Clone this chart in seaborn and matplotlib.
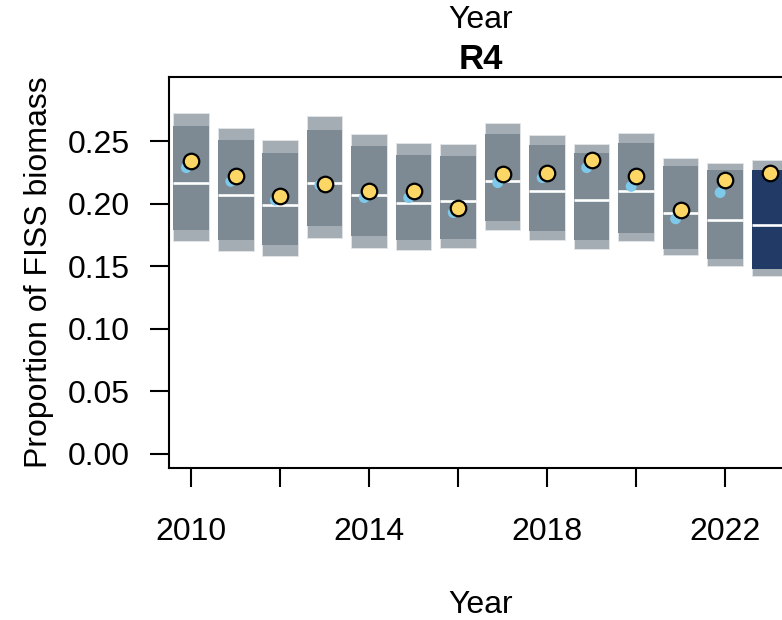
import numpy as np
import pandas as pd
import matplotlib
matplotlib.use("Agg")
import matplotlib.pyplot as plt
import seaborn as sns

# Proportion of FISS biomass in region R4, by survey year
years = [2010, 2011, 2012, 2013, 2014, 2015, 2016, 2017, 2018, 2019, 2020, 2021, 2022, 2023]
outer_hi = [0.273, 0.261, 0.251, 0.270, 0.256, 0.249, 0.248, 0.265, 0.255, 0.248, 0.257, 0.237, 0.233, 0.235]
inner_hi = [0.262, 0.251, 0.241, 0.259, 0.246, 0.239, 0.238, 0.256, 0.247, 0.241, 0.249, 0.230, 0.227, 0.227]
median = [0.217, 0.207, 0.199, 0.217, 0.207, 0.201, 0.202, 0.218, 0.210, 0.203, 0.210, 0.193, 0.187, 0.183]
inner_lo = [0.179, 0.171, 0.167, 0.182, 0.174, 0.171, 0.172, 0.186, 0.178, 0.171, 0.177, 0.164, 0.156, 0.148]
outer_lo = [0.170, 0.162, 0.158, 0.173, 0.165, 0.163, 0.165, 0.179, 0.171, 0.164, 0.170, 0.159, 0.150, 0.142]
observed = [0.234, 0.222, 0.206, 0.216, 0.210, 0.210, 0.197, 0.224, 0.225, 0.235, 0.222, 0.195, 0.219, 0.225]
prev_years = [2010, 2011, 2012, 2013, 2014, 2015, 2016, 2017, 2018, 2019, 2020, 2021, 2022]
previous = [0.229, 0.218, 0.203, 0.215, 0.205, 0.205, 0.193, 0.217, 0.221, 0.229, 0.214, 0.188, 0.209]

y_ticks = [0.00, 0.05, 0.10, 0.15, 0.20, 0.25]
x_ticks = [2010, 2012, 2014, 2016, 2018, 2020, 2022]
x_ticklabels = ["2010", "", "2014", "", "2018", "", "2022"]

sns.set_theme(style="ticks")
plt.rcParams["font.family"] = ["Liberation Sans", "DejaVu Sans"]
plt.rcParams["text.color"] = "black"
plt.rcParams["axes.labelcolor"] = "black"

W, H = 782, 620
fig = plt.figure(figsize=(W / 100, H / 100), dpi=100)
ax_left, ax_right, ax_top, ax_bottom = 169, 791.75, 77, 468
ax = fig.add_axes([ax_left / W, 1 - ax_bottom / H,
                   (ax_right - ax_left) / W, (ax_bottom - ax_top) / H])

light = "#a4adb4"
mid = "#7d8a94"
navy = "#213a66"
width = 0.8

df = pd.DataFrame({"year": years, "outer_hi": outer_hi, "inner_hi": inner_hi,
                   "median": median, "inner_lo": inner_lo, "outer_lo": outer_lo,
                   "observed": observed})
last = df["year"].max()
inner_cols = [navy if y == last else mid for y in df["year"]]

# outer interval
ax.bar(df["year"], df["outer_hi"] - df["outer_lo"], bottom=df["outer_lo"], width=width,
       color=light, edgecolor="#e2e6e9", linewidth=0.6, zorder=2)
# inner interval
ax.bar(df["year"], df["inner_hi"] - df["inner_lo"], bottom=df["inner_lo"], width=width,
       color=inner_cols, linewidth=0, zorder=3)
# median
ax.hlines(df["median"], df["year"] - width / 2, df["year"] + width / 2,
          color="white", linewidth=1.9, zorder=4)

prev_df = pd.DataFrame({"year": np.array(prev_years) - 0.11, "value": previous})
sns.scatterplot(data=prev_df, x="year", y="value", ax=ax, s=62, color="#7ec8ea",
                edgecolor="none", linewidth=0, zorder=5, legend=False)
sns.scatterplot(data=df, x="year", y="observed", ax=ax, s=125, color="#fdd766",
                edgecolor="black", linewidth=1.6, zorder=6, legend=False)

ax.set_xlim(2009.5, 2023.5)
ax.set_ylim(-0.0116, 0.3016)
ax.set_yticks(y_ticks)
ax.set_yticklabels([f"{v:.2f}" for v in y_ticks])
ax.set_xticks(x_ticks)
ax.set_xticklabels(x_ticklabels)

fs = 23
ax.tick_params(axis="both", labelsize=fs, colors="black", width=1.5, length=14, direction="out")
ax.tick_params(axis="y", pad=14)
ax.tick_params(axis="x", pad=21)
for sp in ax.spines.values():
    sp.set_visible(True)
    sp.set_color("black")
    sp.set_linewidth(1.5)

ax.set_xlabel("Year", fontsize=fs, labelpad=31, color="black")
ax.set_ylabel("Proportion of FISS biomass", fontsize=fs, labelpad=10, color="black")
ax.set_title("R4", fontsize=25, fontweight="bold", pad=6, color="black")

fig.text((ax_left + ax_right) / 2 / W, 1 - 20 / H, "Year", fontsize=fs,
         ha="center", va="center", color="black")

fig.savefig("out.png", dpi=100)
